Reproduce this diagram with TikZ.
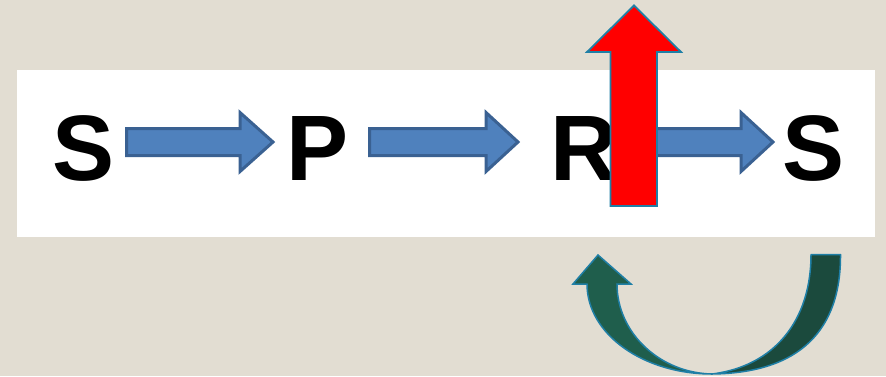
\documentclass[tikz,border=0pt]{standalone}
\usepackage{fontspec}
\setmainfont{Liberation Sans}
\definecolor{bg}{HTML}{E2DDD2}
\definecolor{bluefill}{HTML}{4F81BD}
\definecolor{blueline}{HTML}{3A6192}
\definecolor{tealline}{HTML}{1F7FA6}
\definecolor{greenA}{HTML}{1F5E4C}
\definecolor{greenB}{HTML}{1B4A3D}
\tikzset{
  letter/.style={anchor=base, inner sep=0pt, font=\fontsize{93}{93}\selectfont\bfseries},
  bluearrow/.style={fill=bluefill, draw=blueline, line width=3pt, line join=miter},
  redarrow/.style={fill=red, draw=tealline, line width=1.8pt, line join=miter},
  greenarrowA/.style={fill=greenA, draw=tealline, line width=1.5pt, line join=miter},
  greenarrowB/.style={fill=greenB, draw=tealline, line width=1.5pt, line join=round},
}
\begin{document}
\begin{tikzpicture}[x=1pt,y=-1pt]
\fill[bg] (0,0) rectangle (886,376);
\useasboundingbox (0,0) rectangle (886,376);
\fill[white] (17,70) rectangle (875,237);
% letters
\node[letter] (s1) at (84,180) {S};
\node[letter] (p) at (318,180) {P};
\node[letter] (r) at (584,180) {R};
\node[letter] (s2) at (814,180) {S};
% blue block arrows
\draw[bluearrow] (126.5,128.5) -- (240,128.5) -- (240,112.5) -- (273,142) -- (240,171.5) -- (240,155.5) -- (126.5,155.5) -- cycle;
\draw[bluearrow] (369.5,128.5) -- (486,128.5) -- (486,112.5) -- (518,142) -- (486,171.5) -- (486,155.5) -- (369.5,155.5) -- cycle;
\draw[bluearrow] (614,128.5) -- (741,128.5) -- (741,112.5) -- (773,142) -- (741,171.5) -- (741,155.5) -- (614,155.5) -- cycle;
% red up arrow
\draw[redarrow] (610.5,206) -- (610.5,52) -- (587,52) -- (634,5.5) -- (681,52) -- (657,52) -- (657,206) -- cycle;
% green curved arrow: back (right) band
\draw[greenarrowB] (811,254.5) -- (840.5,254.5) .. controls (841,330) and (800,373) .. (712,374) .. controls (775,366) and (811,320) .. (811,254.5) -- cycle;
% front (left) band with head
\draw[greenarrowA] (573,284) -- (598,255) -- (631,284) -- (617,284) .. controls (617,333) and (660,373) .. (712,374) .. controls (643,374) and (587,334) .. (587,284) -- cycle;
\end{tikzpicture}
\end{document}
